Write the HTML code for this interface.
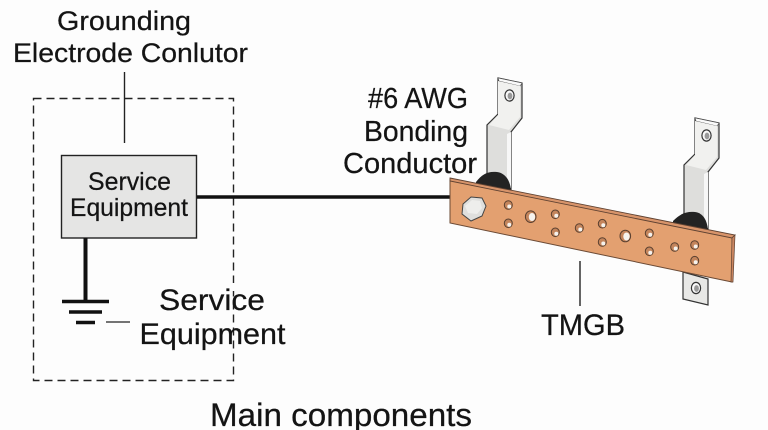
<!DOCTYPE html>
<html>
<head>
<meta charset="utf-8">
<style>
html,body{margin:0;padding:0;background:#fdfdfd;}
svg{display:block;}
text{font-family:"Liberation Sans",sans-serif;fill:#141414;stroke:#141414;stroke-width:.25px;}
</style>
</head>
<body>
<svg width="768" height="430" viewBox="0 0 768 430" xmlns="http://www.w3.org/2000/svg">
<rect width="768" height="430" fill="#fdfdfd"/>
<rect x="33.5" y="98.5" width="200" height="282" fill="none" stroke="#222" stroke-width="1.4" stroke-dasharray="8 5"/>
<rect x="225" y="283" width="16" height="8" fill="#fdfdfd"/>
<line x1="124.5" y1="72" x2="124.5" y2="143" stroke="#222" stroke-width="1.4"/>
<rect x="61.5" y="155.500" width="135" height="82.5" fill="#e5e5e4" stroke="#222" stroke-width="1.4"/>
<line x1="197" y1="197" x2="452" y2="197" stroke="#111" stroke-width="3.6"/>
<line x1="85.5" y1="238" x2="85.5" y2="301" stroke="#111" stroke-width="4"/>
<line x1="62" y1="301.5" x2="109" y2="301.5" stroke="#111" stroke-width="3.6"/>
<line x1="69" y1="312" x2="102" y2="312" stroke="#111" stroke-width="3.6"/>
<line x1="76" y1="322.5" x2="95" y2="322.5" stroke="#111" stroke-width="3.6"/>
<line x1="106" y1="322" x2="130" y2="322" stroke="#222" stroke-width="1.3"/>
<line x1="580" y1="261" x2="580" y2="306" stroke="#222" stroke-width="1.4"/>

<g>
<path d="M498 78 L522 83 L522 118 L511 132 L511 190 L487 190 L487 125 L498 114 Z" fill="#dededc" stroke="#333" stroke-width="1.2"/>
<path d="M498 78 L522 83 L520 86 L499 81 Z" fill="#fafafa" stroke="#555" stroke-width=".6"/>
<path d="M498 81 L520 86 L520 117 L509 130 L489 125 L498 115 Z" fill="#f1f1ef"/>
<path d="M507 134 L511 132 L511 188 L507 188 Z" fill="#f7f7f7"/>
<ellipse cx="509.500" cy="95.500" rx="4.600" ry="5.600" fill="#f8f8f8" stroke="#333" stroke-width="1.200"/>
<ellipse cx="510" cy="96" rx="2.400" ry="3.400" fill="#999"/>
<path d="M476 182 C482 174 488 171 497 172 C505 173 510 180 511 190 L511 195 L476 187 Z" fill="#232323"/>
</g>
<g>
<path d="M695 118 L719 123 L719 158 L708 172 L708 232 L684 228 L684 165 L695 154 Z" fill="#dededc" stroke="#333" stroke-width="1.2"/>
<path d="M695 118 L719 123 L717 126 L696 121 Z" fill="#fafafa" stroke="#555" stroke-width=".6"/>
<path d="M695 121 L717 126 L717 157 L706 170 L686 165 L695 155 Z" fill="#f1f1ef"/>
<path d="M704 174 L708 172 L708 228 L704 228 Z" fill="#f7f7f7"/>
<ellipse cx="706.500" cy="135.500" rx="4.600" ry="5.600" fill="#f8f8f8" stroke="#333" stroke-width="1.200"/>
<ellipse cx="707" cy="136" rx="2.400" ry="3.400" fill="#999"/>
<path d="M673 221 C680 214 686 211 695 212 C703 213 707 220 708 230 L708 236 L673 227 Z" fill="#232323"/>
<path d="M683 272 L708 279 L708 305 L683 299 Z" fill="#e8e8e6" stroke="#333" stroke-width="1.200"/>
<ellipse cx="696" cy="288" rx="4.600" ry="5.600" fill="#f8f8f8" stroke="#333" stroke-width="1.200"/>
<ellipse cx="696.500" cy="288.500" rx="2.400" ry="3.400" fill="#999"/>
</g>

<path d="M450 180 L732 237 L732 282 L450 223 Z" fill="#e3a070" stroke="#6b4a35" stroke-width="1"/>
<path d="M450 178 L735 235 L732 238 L450 181 Z" fill="#d8946a" stroke="#5f4232" stroke-width=".9"/>
<path d="M732 238 L735 235 L733 282 L731 282 Z" fill="#c98560" stroke="#5f4232" stroke-width=".7"/>

<polygon points="463,204 471,197 482,198 486,206 482,216 471,221 462,214" fill="#dfdfdd" stroke="#444" stroke-width="1"/>
<polygon points="465,206 472,200 480,201 482,208 477,214 468,213" fill="#eeeeec"/>

<g fill="#c4855c" stroke="#5a4030" stroke-width="1">
<ellipse cx="508.300" cy="205" rx="4" ry="4.300"/>
<ellipse cx="508.300" cy="223.300" rx="4" ry="4.300"/>
<ellipse cx="530.700" cy="216.700" rx="5.300" ry="5.800"/>
<ellipse cx="555.300" cy="214.300" rx="4" ry="4.300"/>
<ellipse cx="555.300" cy="232.300" rx="4" ry="4.300"/>
<ellipse cx="579.300" cy="228" rx="4" ry="4.300"/>
<ellipse cx="602.300" cy="223.700" rx="4" ry="4.300"/>
<ellipse cx="602.300" cy="242" rx="4" ry="4.300"/>
<ellipse cx="625.300" cy="236" rx="5.300" ry="5.800"/>
<ellipse cx="649.300" cy="233.300" rx="4" ry="4.300"/>
<ellipse cx="649.300" cy="251.300" rx="4" ry="4.300"/>
<ellipse cx="674.700" cy="247" rx="4" ry="4.300"/>
<ellipse cx="694.700" cy="245" rx="4" ry="4.300"/>
<ellipse cx="694.700" cy="260.700" rx="4" ry="4.300"/>
</g>
<g fill="#f6f3ee">
<ellipse cx="509.300" cy="206.500" rx="2" ry="2"/>
<ellipse cx="509.300" cy="224.800" rx="2" ry="2"/>
<ellipse cx="532" cy="217" rx="3.200" ry="4"/>
<ellipse cx="556.300" cy="215.800" rx="2" ry="2"/>
<ellipse cx="556.300" cy="233.800" rx="2" ry="2"/>
<ellipse cx="580.300" cy="229.500" rx="2" ry="2"/>
<ellipse cx="603.300" cy="225.200" rx="2" ry="2"/>
<ellipse cx="603.300" cy="243.500" rx="2" ry="2"/>
<ellipse cx="626.500" cy="236.500" rx="3.200" ry="4"/>
<ellipse cx="650.300" cy="234.800" rx="2" ry="2"/>
<ellipse cx="650.300" cy="252.800" rx="2" ry="2"/>
<ellipse cx="675.700" cy="248.500" rx="2" ry="2"/>
<ellipse cx="695.700" cy="246.500" rx="2" ry="2"/>
<ellipse cx="695.700" cy="262.200" rx="2" ry="2"/>
</g>

<text x="124" y="30" font-size="27" text-anchor="middle" textLength="134" lengthAdjust="spacingAndGlyphs">Grounding</text>
<text x="130.500" y="62" font-size="27" text-anchor="middle" textLength="235" lengthAdjust="spacingAndGlyphs">Electrode Conlutor</text>
<text x="129.500" y="190" font-size="25" text-anchor="middle" textLength="83" lengthAdjust="spacingAndGlyphs">Service</text>
<text x="129" y="216" font-size="25" text-anchor="middle" textLength="118" lengthAdjust="spacingAndGlyphs">Equipment</text>
<text x="212" y="310" font-size="30" text-anchor="middle" textLength="106" lengthAdjust="spacingAndGlyphs">Service</text>
<text x="212.500" y="344" font-size="30" text-anchor="middle" textLength="146" lengthAdjust="spacingAndGlyphs">Equipment</text>
<text x="418" y="108" font-size="29" text-anchor="middle" textLength="100" lengthAdjust="spacingAndGlyphs">#6 AWG</text>
<text x="416" y="141" font-size="29" text-anchor="middle" textLength="104" lengthAdjust="spacingAndGlyphs">Bonding</text>
<text x="410" y="173" font-size="29" text-anchor="middle" textLength="134" lengthAdjust="spacingAndGlyphs">Conductor</text>
<text x="583" y="335" font-size="30" text-anchor="middle" textLength="84" lengthAdjust="spacingAndGlyphs">TMGB</text>
<text x="341" y="426" font-size="32" text-anchor="middle" textLength="262" lengthAdjust="spacingAndGlyphs">Main components</text>
</svg>
</body>
</html>
